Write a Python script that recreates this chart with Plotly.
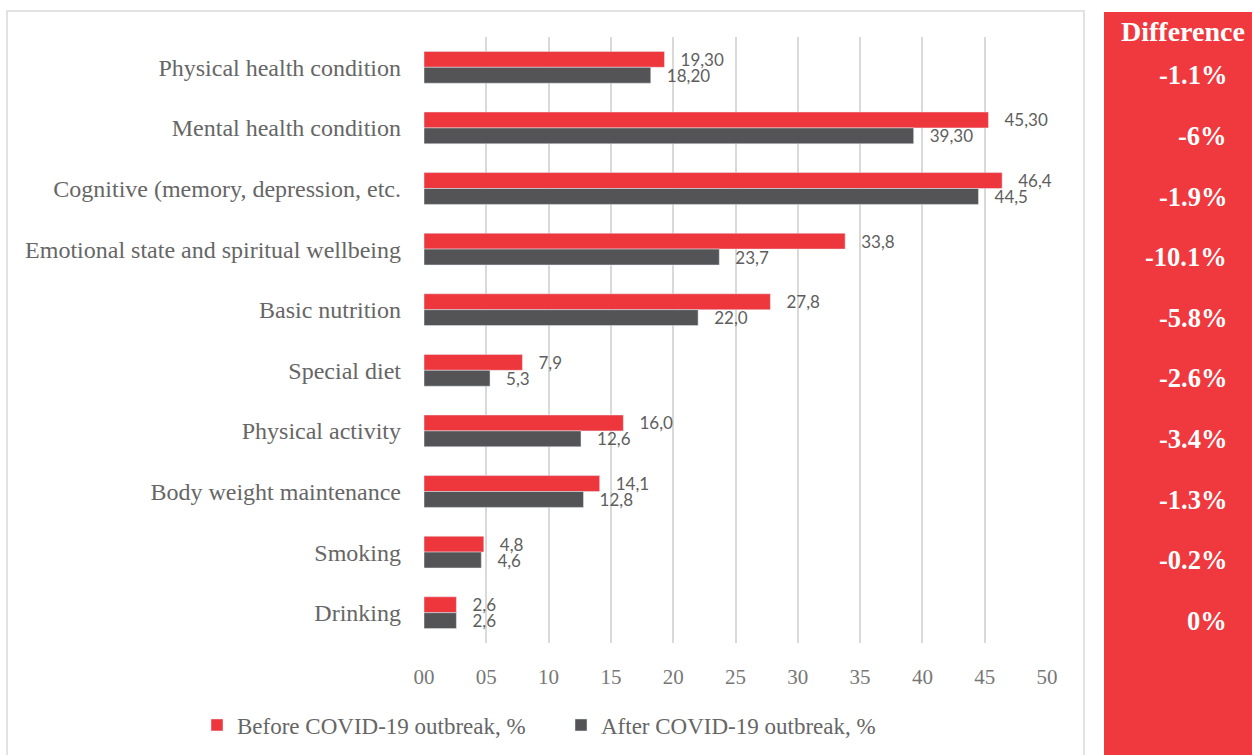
import plotly.graph_objects as go

W, H = 1252, 755

categories = [
    "Physical health condition",
    "Mental health condition",
    "Cognitive (memory, depression, etc.",
    "Emotional state and spiritual wellbeing",
    "Basic nutrition",
    "Special diet",
    "Physical activity",
    "Body weight maintenance",
    "Smoking",
    "Drinking",
]
before = [19.3, 45.3, 46.4, 33.8, 27.8, 7.9, 16.0, 14.1, 4.8, 2.6]
after = [18.2, 39.3, 44.5, 23.7, 22.0, 5.3, 12.6, 12.8, 4.6, 2.6]
before_labels = ["19,30", "45,30", "46,4", "33,8", "27,8", "7,9", "16,0", "14,1", "4,8", "2,6"]
after_labels = ["18,20", "39,30", "44,5", "23,7", "22,0", "5,3", "12,6", "12,8", "4,6", "2,6"]
difference = ["-1.1%", "-6%", "-1.9%", "-10.1%", "-5.8%", "-2.6%", "-3.4%", "-1.3%", "-0.2%", "0%"]
x_ticks = [0, 5, 10, 15, 20, 25, 30, 35, 40, 45, 50]
x_tick_text = ["00", "05", "10", "15", "20", "25", "30", "35", "40", "45", "50"]

RED = "#EE373C"
DARK = "#545456"
GRID = "#D9D9D9"
SERIF = "Liberation Serif"
pad = "\u00a0\u00a0\u00a0"

fig = go.Figure()
fig.add_trace(go.Bar(
    y=categories, x=before, orientation="h", name="Before COVID-19 outbreak, %",
    marker=dict(color=RED), text=[pad + t for t in before_labels],
    textposition="outside", cliponaxis=False, constraintext="none",
    textfont=dict(family="Lato", size=17, color="#5E5E5E"),
))
fig.add_trace(go.Bar(
    y=categories, x=after, orientation="h", name="After COVID-19 outbreak, %",
    marker=dict(color=DARK), text=[pad + t for t in after_labels],
    textposition="outside", cliponaxis=False, constraintext="none",
    textfont=dict(family="Lato", size=17, color="#5E5E5E"),
))

# Difference column
for cat, d in zip(categories, difference):
    fig.add_annotation(
        x=1229 / W, xref="paper", xanchor="right",
        y=cat, yref="y", yshift=-8, showarrow=False,
        text=d, font=dict(family=SERIF, size=26.5, color="white", weight="bold"),
    )
fig.add_annotation(
    x=1183 / W, xref="paper", xanchor="center",
    y=(H - 32) / H, yref="paper", yanchor="middle", showarrow=False,
    text="Difference", font=dict(family=SERIF, size=28, color="white", weight="bold"),
)

fig.update_layout(
    width=W, height=H,
    margin=dict(l=0, r=0, t=0, b=0),
    paper_bgcolor="white", plot_bgcolor="white",
    barmode="group", bargap=0.475, bargroupgap=0,
    showlegend=True,
    legend=dict(
        orientation="h", x=197 / W, xanchor="left", y=(H - 725) / H, yanchor="middle",
        font=dict(family=SERIF, size=23, color="#666666"),
        entrywidth=319, traceorder="normal",
        bgcolor="rgba(0,0,0,0)",
    ),
    shapes=[
        dict(type="rect", xref="paper", yref="paper",
             x0=7 / W, x1=1084 / W, y0=-0.02, y1=(H - 11) / H,
             line=dict(color=GRID, width=1.5), fillcolor="rgba(0,0,0,0)", layer="below"),
        dict(type="rect", xref="paper", yref="paper",
             x0=1104 / W, x1=1.0, y0=0, y1=(H - 12) / H,
             line=dict(width=0), fillcolor="#EF393E", layer="below"),
    ],
    xaxis=dict(
        domain=[424 / W, 1047 / W], range=[0, 50],
        tickvals=x_ticks, ticktext=x_tick_text,
        showgrid=True, gridcolor=GRID, gridwidth=1.5,
        zeroline=False, showline=False, ticks="",
        tickfont=dict(family=SERIF, size=21, color="#777777"),
        ticklabelstandoff=19, automargin=False, fixedrange=True,
    ),
    yaxis=dict(
        domain=[(H - 643) / H, (H - 37) / H],
        autorange="reversed", showgrid=False, zeroline=False, showline=False, ticks="",
        tickfont=dict(family=SERIF, size=24, color="#666666"),
        ticklabelstandoff=22, automargin=False, fixedrange=True,
    ),
)

fig.write_html("out.html", config={"displayModeBar": False},
               post_script="document.body.style.margin='0';")
